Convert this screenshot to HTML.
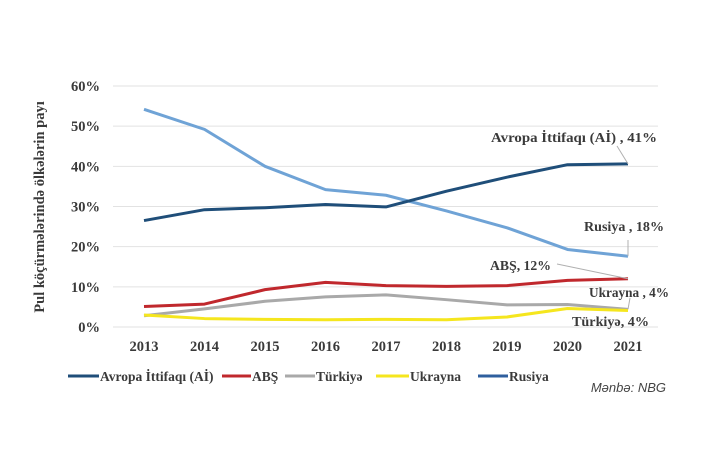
<!DOCTYPE html>
<html><head><meta charset="utf-8"><style>
body{margin:0;background:#fff;width:720px;height:459px;overflow:hidden}
svg text{font-family:"Liberation Serif",serif;font-weight:bold;fill:#3a3a3a}
</style></head><body>
<svg id="c" width="720" height="459">
<g id="grid"></g><g id="lines"></g><g id="labels"></g>
<text transform="translate(44,207) rotate(-90)" text-anchor="middle" font-size="14.5">Pul köçürmələrində ölkələrin payı</text>
<text x="666" y="392" text-anchor="end" font-size="13" style="font-family:'Liberation Sans',sans-serif;font-weight:normal;font-style:italic;fill:#444">Mənbə: NBG</text>
</svg>
<script>
const years=[2013,2014,2015,2016,2017,2018,2019,2020,2021];
const yTicks=[0,10,20,30,40,50,60];
const eu=[26.5,29.2,29.7,30.5,29.9,33.8,37.3,40.4,40.6];
const ru=[54.2,49.2,40,34.2,32.8,28.9,24.7,19.3,17.6];
const us=[5.1,5.7,9.3,11.1,10.3,10.1,10.3,11.6,12.0];
const tr=[2.8,4.5,6.4,7.5,8.0,6.8,5.5,5.6,4.4];
const ua=[3.0,2.1,1.9,1.8,1.9,1.8,2.5,4.6,4.1];
const NS='http://www.w3.org/2000/svg';
const x=i=>144+i*60.5;
const y=v=>327-v*4.017;
function mk(t,a,p){const e=document.createElementNS(NS,t);for(const k in a)e.setAttribute(k,a[k]);p.appendChild(e);return e;}
const g=document.getElementById('grid');
yTicks.forEach(t=>{
 const l=mk('line',{x1:113,x2:658,y1:y(t),y2:y(t),stroke:'#e2e2e2','stroke-width':1},g);
 
 
 const tx=mk('text',{x:100,y:y(t)+5,'text-anchor':'end','font-size':14.5},g);tx.textContent=t+'%';
 
 
});
years.forEach((yr,i)=>{
 const tx=mk('text',{x:x(i),y:351,'text-anchor':'middle','font-size':14.5},g);tx.textContent=yr;
 
 
});
const series=[[ru,'#6fa3d6','series-rusiya'],[eu,'#1f4e79','series-avropa'],[tr,'#a9a9a9','series-turkiye'],[us,'#c0282d','series-abs'],[ua,'#f5e61e','series-ukrayna']];
const L=document.getElementById('lines');
series.forEach(([d,c,n])=>{
 const p=mk('polyline',{points:d.map((v,i)=>x(i)+','+y(v)).join(' '),fill:'none',stroke:c,'stroke-width':3,'stroke-linejoin':'round'},L);
 
 
});
const lb=document.getElementById('labels');
const ann=[['Avropa İttifaqı (Aİ) , 41%',491,142,166,617,146,x(8),y(eu[8])],['Rusiya , 18%',584,231,80,628,240,x(8),y(ru[8])],['ABŞ, 12%',490,270,61,557,264,x(8),y(us[8])],['Ukrayna , 4%',589,297,80,630,298,x(8),y(tr[8])],['Türkiyə, 4%',572,326,77,null,null,0,0]];
ann.forEach(a=>{
 const t=mk('text',{x:a[1],y:a[2],'font-size':14,textLength:a[3],lengthAdjust:'spacingAndGlyphs'},lb);t.textContent=a[0];
 
 
 if(a[4]!==null){const l=mk('line',{x1:a[4],y1:a[5],x2:a[6],y2:a[7],stroke:'#b0b0b0','stroke-width':1},lb);
 
 }
});
const leg=[['Avropa İttifaqı (Aİ)','#1f4e79',68,100],['ABŞ','#c0282d',222,252],['Türkiyə','#a9a9a9',285,316],['Ukrayna','#f5e61e',376,410],['Rusiya','#2f5f9e',478,509]];
leg.forEach(e=>{
 const l=mk('line',{x1:e[2],x2:e[3]-1,y1:376,y2:376,stroke:e[1],'stroke-width':3},lb);
 
 
 const t=mk('text',{x:e[3],y:381,'font-size':13.5},lb);t.textContent=e[0];
 
 
});
</script>
</body></html>
